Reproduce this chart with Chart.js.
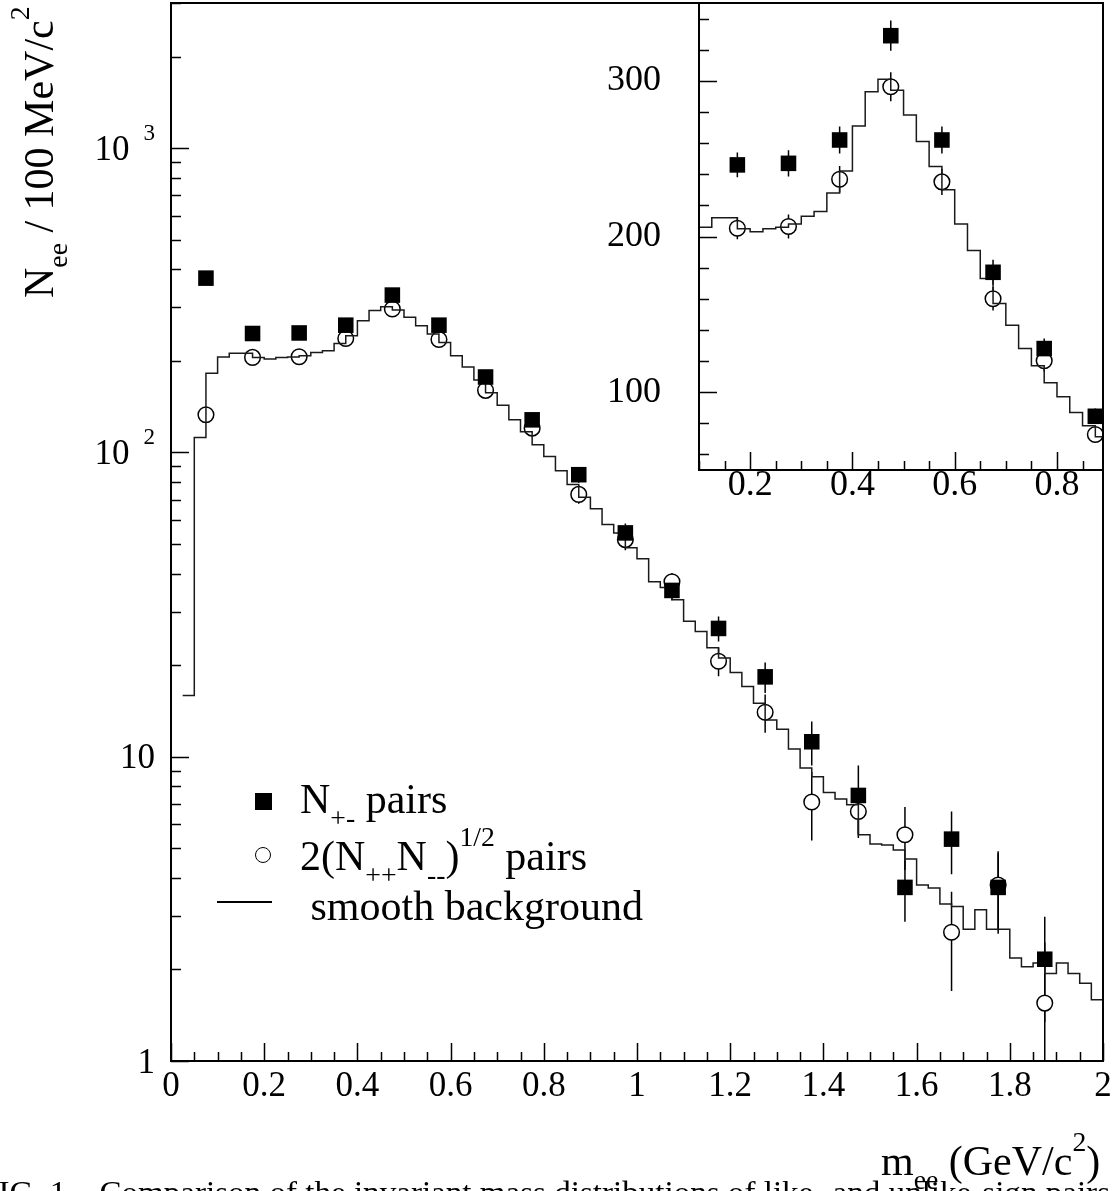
<!DOCTYPE html>
<html lang="en">
<head>
<meta charset="UTF-8">
<title>Dielectron mass spectrum</title>
<script src="https://cdn.jsdelivr.net/npm/chart.js"></script>
<style>
  body { margin: 0; background: #fff; }
  #wrap { position: relative; width: 1119px; height: 1191px; overflow: hidden; font-family: 'Liberation Serif', serif; color: #000; background: #fff; }
  canvas { position: absolute; top: 0; }
  #mainChart { left: 0; }
  #insetChart { left: 590px; }
  .txt { position: absolute; white-space: nowrap; line-height: 1; font-size: 42px; }
  .txt sub, .txt sup { font-size: 0.66em; line-height: 0; }
  .txt sub { vertical-align: -0.5em; }
  .txt sup { vertical-align: 0.85em; }
  #yTitle { left: 18px; top: 298px; transform: rotate(-90deg); transform-origin: 0 0; }
  .ylab { position: absolute; white-space: nowrap; line-height: 1; font-size: 35px; text-align: right; }
  .ylab sup { font-size: 0.66em; vertical-align: 0.85em; line-height: 0; margin-left: 14px; }
  .mk { position: absolute; }
</style>
</head>
<body>
<div id="wrap">
  <canvas id="mainChart" width="1119" height="1191"></canvas>
  <canvas id="insetChart" width="529" height="520"></canvas>

  <div class="txt" id="yTitle">N<sub>ee</sub> / 100 MeV/c<sup>2</sup></div>
  <div class="txt" style="left:881px; top:1140px;">m<sub>ee</sub> (GeV/c<sup>2</sup>)</div>

  <!-- legend -->
  <div class="mk" style="left:255px; top:793px; width:17px; height:17px; background:#000;"></div>
  <div class="txt" style="left:300px; top:778px;">N<sub>+-</sub> pairs</div>
  <div class="mk" style="left:255px; top:847px; width:14px; height:14px; border:1.5px solid #000; border-radius:50%;"></div>
  <div class="txt" style="left:300px; top:835px;">2(N<sub>++</sub>N<sub>--</sub>)<sup>1/2</sup> pairs</div>
  <div class="mk" style="left:217px; top:901px; width:55px; height:1.5px; background:#000;"></div>
  <div class="txt" style="left:300px; top:885px;">&nbsp;smooth background</div>

  <div class="txt" id="caption" style="left:-20px; top:1176px; font-size:32px; transform-origin:0 0;">FIG. 1.&nbsp;&nbsp; Comparison of the invariant mass distributions of like- and unlike-sign pairs</div>
</div>

<script>
// bin width of the smooth background histogram (GeV/c^2)
const binWidth = 0.025;

// smooth background, one value per bin starting at 0
const bgCounts = [
  0, 15.9, 112, 182, 206, 212, 212, 205, 203, 205,
  206, 208, 213, 216, 228, 242, 271, 293, 301, 294,
  278, 261, 245, 230, 208, 191, 173, 157, 143, 128,
  117, 106, 97, 87, 78.4, 71.3, 65.3, 58, 54.4, 48.6,
  44.7, 37.6, 36, 32.8, 27.9, 25.8, 22.8, 21.1, 18.9, 17.0,
  15.0, 13.2, 12.3, 10.6, 9.18, 8.6, 7.63, 7.26, 6.95, 5.54,
  5.17, 5.13, 4.94, 4.61, 3.79, 3.70, 3.28, 3.22, 2.71, 3.14,
  2.71, 2.71, 2.18, 2.04, 2.1, 1.94, 2.10, 1.94, 1.80, 1.59
];

// measured points
const pairMass = [0.075, 0.175, 0.275, 0.375, 0.475, 0.575, 0.675, 0.775, 0.875, 0.975,
                  1.075, 1.175, 1.275, 1.375, 1.475, 1.575, 1.675, 1.775, 1.875];
const unlikePairs = [374, 246, 247, 262, 329, 262, 177, 128, 84.5, 54.4,
                     35.2, 26.4, 18.3, 11.2, 7.46, 3.72, 5.36, 3.72, 2.16];
const unlikeErr = [12, 8, 8.4, 8.7, 9.7, 8.7, 8, 6.5, 5, 4,
                   2.5, 2.5, 2.1, 1.85, 1.9, 0.85, 1.25, 1.1, 0.82];
const likePairs = [133, 205.3, 206.4, 236.8, 296.2, 235.1, 160, 120.2, 72.8, 51.7,
                   37.6, 20.6, 14.0, 7.1, 6.61, 5.54, 2.65, 3.79, 1.55];
const likeErr = [8, 7, 7.7, 8.5, 9.3, 8.5, 7.5, 7, 5, 4,
                 2.5, 2.2, 2, 1.8, 1.2, 1.3, 0.95, 1.1, 0.9];

// axes
const massTicks = [0, 0.2, 0.4, 0.6, 0.8, 1, 1.2, 1.4, 1.6, 1.8, 2];
const countTicks = [1, 10, 100, 1000];
const countLabels = ['1', '10', '10<sup>2</sup>', '10<sup>3</sup>'];
const insetMassTicks = [0.2, 0.4, 0.6, 0.8];
const insetCountTicks = [100, 200, 300];

Chart.defaults.font.family = "'Liberation Serif', serif";
Chart.defaults.color = '#000';

function minorSteps(from, to, step) {
  const out = [];
  for (let v = from; v <= to + 1e-9; v += step) out.push(+v.toFixed(4));
  return out;
}
const logMinor = [];
[1, 10, 100, 1000].forEach(d => {
  for (let k = 2; k <= 9; k++) if (k * d <= 3000) logMinor.push(k * d);
});

// fixed axis sizes, no extra label padding from the layout
function fixSize(w, h) {
  return s => {
    if (w !== null) s.width = w;
    if (h !== null) s.height = h;
    s.paddingTop = 0; s.paddingBottom = 0; s.paddingLeft = 0; s.paddingRight = 0;
  };
}

// frame + ROOT-like ticks pointing inside the frame
const insideTicks = {
  id: 'insideTicks',
  beforeDatasetsDraw(chart, args, opts) {
    if (!opts.whiteBg) return;
    const a = chart.chartArea;
    chart.ctx.save();
    chart.ctx.fillStyle = '#fff';
    chart.ctx.fillRect(a.left, a.top, a.right - a.left, a.bottom - a.top);
    chart.ctx.restore();
  },
  afterDatasetsDraw(chart, args, opts) {
    const {ctx, chartArea: a, scales: {x, y}} = chart;
    const inX = v => v >= x.min - 1e-9 && v <= x.max + 1e-9;
    const inY = v => v >= y.min && v <= y.max;
    ctx.save();
    ctx.strokeStyle = '#000';
    ctx.lineWidth = 1.5;
    ctx.beginPath();
    const xt = (list, len) => list.filter(inX).forEach(v => {
      const px = Math.round(x.getPixelForValue(v)) + 0.5;
      ctx.moveTo(px, a.bottom); ctx.lineTo(px, a.bottom - len);
    });
    const yt = (list, len) => list.filter(inY).forEach(v => {
      const py = Math.round(y.getPixelForValue(v)) + 0.5;
      ctx.moveTo(a.left, py); ctx.lineTo(a.left + len, py);
    });
    xt(opts.xMinor, 9); xt(opts.xMajor, 18);
    yt(opts.yMinor, 10); yt(opts.yMajor, 18);
    ctx.stroke();
    ctx.lineWidth = 2;
    ctx.strokeRect(a.left, a.top, a.right - a.left, a.bottom - a.top);
    ctx.restore();
  }
};

function histPoints() {
  const pts = bgCounts.map((v, i) => ({x: i * binWidth, y: v}));
  pts.push({x: bgCounts.length * binWidth, y: bgCounts[bgCounts.length - 1]});
  return pts;
}

function markerPoints(vals) {
  return vals.map((v, i) => ({x: pairMass[i], y: v}));
}

function errorPoints(vals, errs, floor) {
  const pts = [];
  vals.forEach((v, i) => {
    pts.push({x: pairMass[i], y: Math.max(v - errs[i], floor)});
    pts.push({x: pairMass[i], y: v + errs[i]});
    pts.push({x: pairMass[i], y: null});
  });
  return pts;
}

function makeDatasets(floor) {
  return [
    {label: 'N+- pairs', data: markerPoints(unlikePairs), showLine: false,
     pointStyle: 'rect', pointRadius: 11, pointBackgroundColor: '#000', pointBorderWidth: 0, order: 1},
    {label: 'smooth background', data: histPoints(), stepped: true, borderColor: '#1a1a1a',
     borderWidth: 1.5, pointRadius: 0, fill: false, order: 2},
    {label: '2(N++N--)^1/2 pairs', data: markerPoints(likePairs), showLine: false,
     pointStyle: 'circle', pointRadius: 7.8, pointBackgroundColor: '#fff', pointBorderColor: '#000',
     pointBorderWidth: 1.5, order: 3},
    {label: 'err +-', data: errorPoints(unlikePairs, unlikeErr, floor), borderColor: '#000',
     borderWidth: 1.5, pointRadius: 0, spanGaps: false, order: 4},
    {label: 'err ++--', data: errorPoints(likePairs, likeErr, floor), borderColor: '#000',
     borderWidth: 1.5, pointRadius: 0, spanGaps: false, order: 5}
  ];
}

const mainChart = new Chart(document.getElementById('mainChart'), {
  type: 'line',
  data: {datasets: makeDatasets(0.05)},
  plugins: [insideTicks],
  options: {
    responsive: false, animation: false, events: [],
    layout: {autoPadding: false, padding: {top: 3, right: 16, left: 0, bottom: 0}},
    plugins: {
      legend: {display: false}, tooltip: {enabled: false},
      insideTicks: {xMajor: massTicks, xMinor: minorSteps(0, 2, 0.05), yMajor: countTicks, yMinor: logMinor}
    },
    scales: {
      x: {
        type: 'linear', min: 0, max: 2,
        afterFit: fixSize(null, 130),
        afterBuildTicks: s => { s.ticks = massTicks.map(v => ({value: v})); },
        grid: {display: false, drawTicks: false}, border: {display: false},
        ticks: {padding: 8, maxRotation: 0, autoSkip: false, font: {size: 35, lineHeight: 1},
                callback: v => String(+v.toFixed(1))}
      },
      y: {
        type: 'logarithmic', min: 1, max: 3000,
        afterFit: fixSize(171, null),
        grid: {display: false, drawTicks: false}, border: {display: false},
        ticks: {display: false}
      }
    }
  }
});

new Chart(document.getElementById('insetChart'), {
  type: 'line',
  data: {datasets: makeDatasets(0)},
  plugins: [insideTicks],
  options: {
    responsive: false, animation: false, events: [],
    layout: {autoPadding: false, padding: {top: 3, right: 16, left: 0, bottom: 0}},
    plugins: {
      legend: {display: false}, tooltip: {enabled: false},
      insideTicks: {whiteBg: true, xMajor: insetMassTicks, xMinor: minorSteps(0.1, 0.85, 0.05),
                    yMajor: insetCountTicks, yMinor: minorSteps(60, 340, 20)}
    },
    scales: {
      x: {
        type: 'linear', min: 0.1, max: 0.89,
        afterFit: fixSize(null, 50),
        afterBuildTicks: s => { s.ticks = insetMassTicks.map(v => ({value: v})); },
        grid: {display: false, drawTicks: false}, border: {display: false},
        ticks: {padding: 0, maxRotation: 0, autoSkip: false, font: {size: 36, lineHeight: 0.85},
                callback: v => v.toFixed(1)}
      },
      y: {
        type: 'linear', min: 50, max: 350,
        afterFit: fixSize(109, null),
        afterBuildTicks: s => { s.ticks = insetCountTicks.map(v => ({value: v})); },
        grid: {display: false, drawTicks: false}, border: {display: false},
        ticks: {padding: 38, font: {size: 36, lineHeight: 1}, callback: v => String(v)}
      }
    }
  }
});

// y tick labels of the main plot (with superscripts), placed through the log scale
const wrap = document.getElementById('wrap');
countTicks.forEach((v, i) => {
  const d = document.createElement('div');
  d.className = 'ylab';
  d.innerHTML = countLabels[i];
  const py = mainChart.scales.y.getPixelForValue(v);
  d.style.right = (1119 - 155) + 'px';
  d.style.top = (py - 17.5) + 'px';
  wrap.appendChild(d);
});

// stretch the caption line across the page like the original
const cap = document.getElementById('caption');
const capW = cap.getBoundingClientRect().width;
cap.style.transform = 'scaleX(' + (1130 / capW) + ')';
</script>
</body>
</html>
